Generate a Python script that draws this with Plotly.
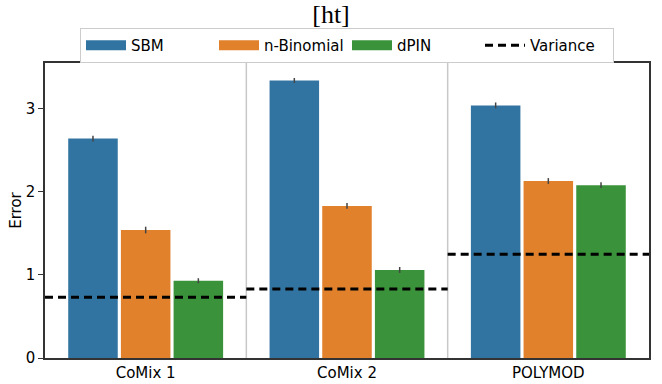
import plotly.graph_objects as go

categories = ["CoMix 1", "CoMix 2", "POLYMOD"]
sbm = [2.64, 3.34, 3.04]
sbm_err = [0.035, 0.03, 0.035]
nbin = [1.54, 1.83, 2.13]
nbin_err = [0.04, 0.035, 0.035]
dpin = [0.93, 1.06, 2.08]
dpin_err = [0.03, 0.035, 0.035]
variance = [0.73, 0.83, 1.25]

colors = {"SBM": "#3274a1", "n-Binomial": "#e1812c", "dPIN": "#3a923a"}

idx = list(range(len(categories)))
fig = go.Figure()
for name, vals, errs in [("SBM", sbm, sbm_err), ("n-Binomial", nbin, nbin_err), ("dPIN", dpin, dpin_err)]:
    fig.add_trace(go.Bar(
        x=idx, y=vals, name=name, marker=dict(color=colors[name], line=dict(width=0)),
        error_y=dict(type="data", array=errs, color="#444444", thickness=1.5, width=0),
        showlegend=False,
    ))
    # legend-only entry drawn as a wide patch
    fig.add_trace(go.Scatter(x=[None], y=[None], mode="lines", name=name,
                             line=dict(color=colors[name], width=10)))

vx, vy = [], []
for i, v in zip(idx, variance):
    vx += [i - 0.5, i + 0.5, None]
    vy += [v, v, None]
fig.add_trace(go.Scatter(x=vx, y=vy, mode="lines", name="Variance",
                         line=dict(color="black", width=3, dash="8px,5px")))

for i in idx[:-1]:
    fig.add_shape(type="line", x0=i + 0.5, x1=i + 0.5, y0=0, y1=1, yref="paper",
                  line=dict(color="#c8c8c8", width=1.5), layer="below")

fig.update_layout(
    width=662, height=384,
    margin=dict(l=45, r=13, t=63, b=26, autoexpand=False),
    paper_bgcolor="white", plot_bgcolor="white",
    barmode="group", bargap=0.215, bargroupgap=0.06,
    font=dict(family="DejaVu Sans", size=15, color="black"),
    title=dict(text="[ht]", x=0.5, xanchor="center", y=0.963, yanchor="middle",
               font=dict(family="Liberation Serif", size=26, color="black")),
    legend=dict(orientation="h", x=0.5, xanchor="center", y=1.059, yanchor="middle",
                bordercolor="#cccccc", borderwidth=1, font=dict(size=15),
                itemwidth=40, entrywidth=78, traceorder="normal"),
    xaxis=dict(range=[-0.5, 2.5], tickmode="array", tickvals=idx, ticktext=categories,
               showgrid=False, zeroline=False, showline=True, linecolor="#333333", linewidth=1.5,
               mirror=True, ticks="", tickfont=dict(size=15)),
    yaxis=dict(range=[0, 3.55], tickvals=[0, 1, 2, 3], showgrid=False, zeroline=False,
               showline=True, linecolor="#333333", linewidth=1.5, mirror=True,
               ticks="outside", ticklen=5, tickcolor="#333333", tickfont=dict(size=15),
               title=dict(text="Error", font=dict(size=15), standoff=0)),
)

fig.write_html("out.html", config={"displayModeBar": False},
               post_script="document.body.style.margin='0';")
